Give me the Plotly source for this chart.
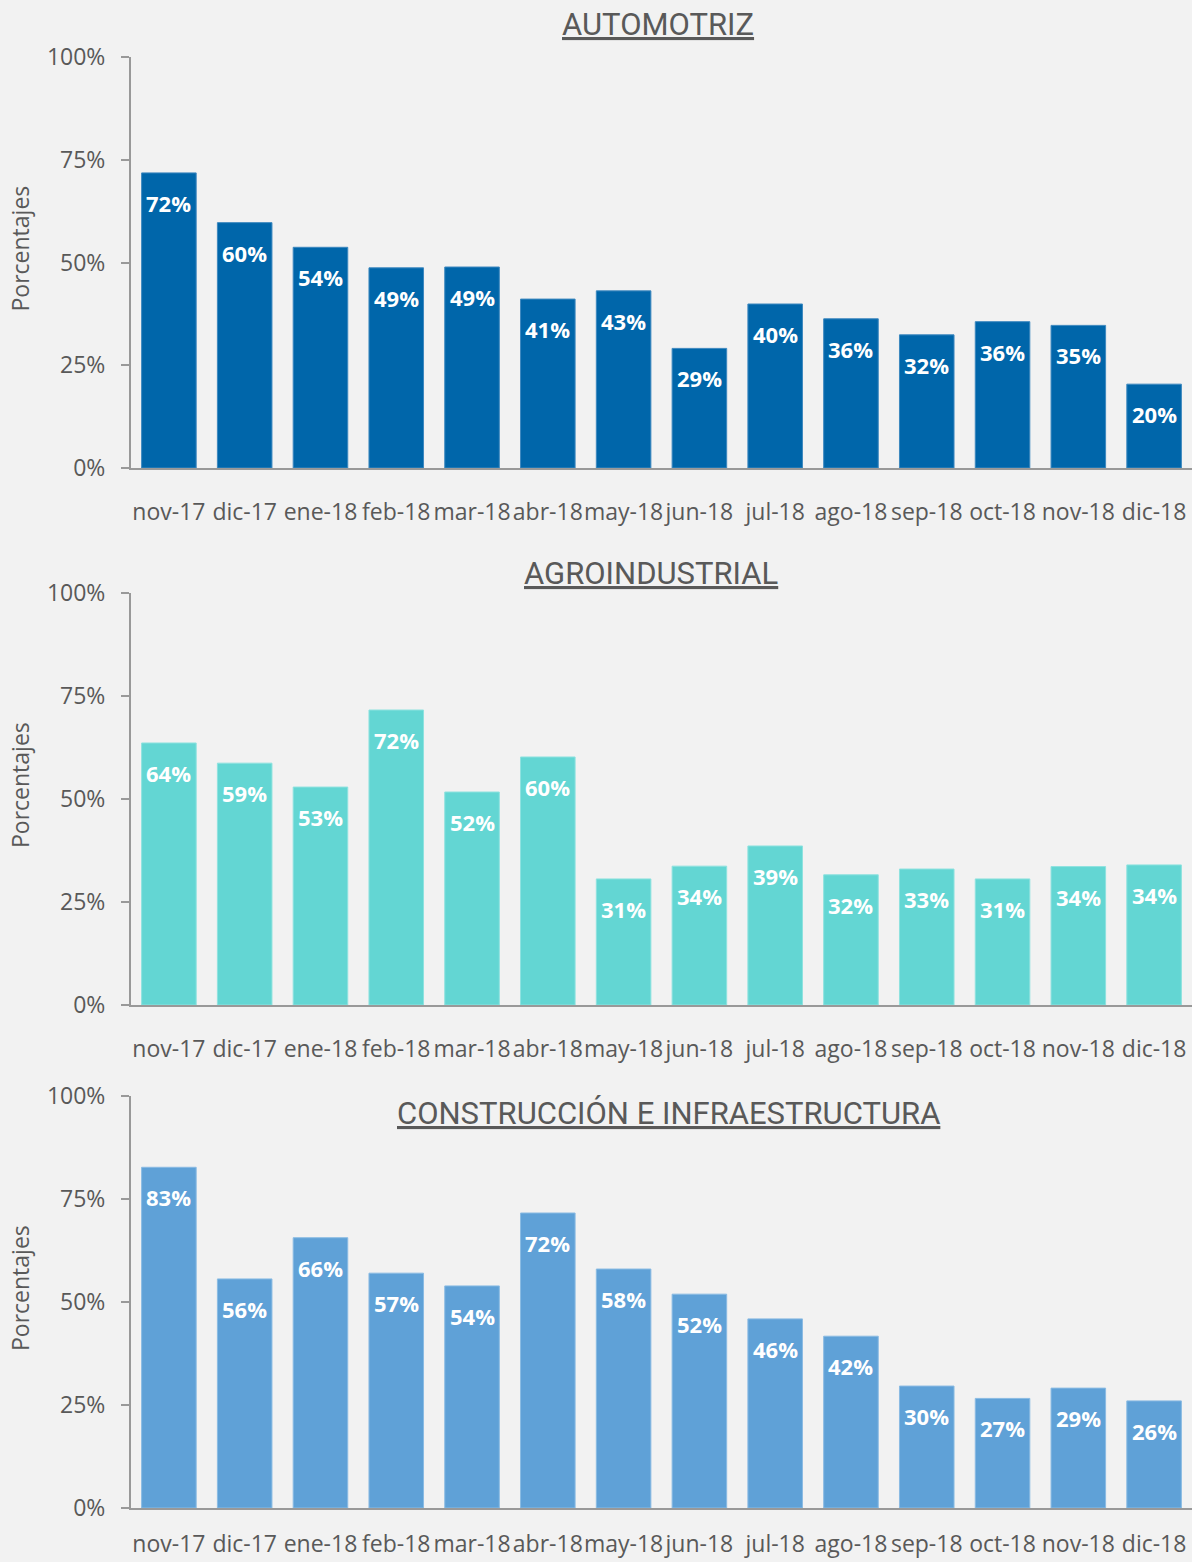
import plotly.graph_objects as go
from plotly.subplots import make_subplots

months = ["nov-17", "dic-17", "ene-18", "feb-18", "mar-18", "abr-18", "may-18",
          "jun-18", "jul-18", "ago-18", "sep-18", "oct-18", "nov-18", "dic-18"]

# shares (fractions)
automotriz = [0.718, 0.597, 0.537, 0.487, 0.489, 0.411, 0.431, 0.291, 0.399, 0.363, 0.324, 0.356, 0.347, 0.204]
agroindustrial = [0.636, 0.587, 0.529, 0.716, 0.517, 0.602, 0.306, 0.337, 0.386, 0.316, 0.330, 0.306, 0.336, 0.340]
construccion = [0.827, 0.556, 0.656, 0.570, 0.539, 0.716, 0.580, 0.519, 0.459, 0.417, 0.296, 0.266, 0.291, 0.260]

titles = ["AUTOMOTRIZ", "AGROINDUSTRIAL", "CONSTRUCCIÓN E INFRAESTRUCTURA"]
series = [automotriz, agroindustrial, construccion]
barColors = ["#0066aa", "#63d6d3", "#5fa1d7"]
edgeColors = ["#3d88bf", "#8ee2df", "#8abbe3"]

W, H = 1192, 1562
# pixel rows of each panel: (100% line, 0% line)
panelPx = [(57, 468), (593, 1005), (1096, 1508)]
titlePx = [(658, 25), (651, 573), (668, 1113)]
labelStandoff = [22, 22, 14]
left = 131

textColor = "#595959"
axisColor = "#999999"

def py(p):
    return 1 - p / H

def px_(p):
    return (p - left) / (W - left)

fig = make_subplots(rows=3, cols=1)

for i, vals in enumerate(series):
    row = i + 1
    fig.add_trace(go.Bar(x=months, y=vals, marker_color=barColors[i],
                         marker_line_color=edgeColors[i], marker_line_width=1,
                         showlegend=False, hoverinfo="skip"), row=row, col=1)
    xr = "x" if row == 1 else "x%d" % row
    yr = "y" if row == 1 else "y%d" % row
    for m, v in zip(months, vals):
        fig.add_annotation(x=m, y=v, xref=xr, yref=yr, text="<b>%d%%</b>" % round(v * 100),
                           showarrow=False, yshift=-30, xanchor="center", yanchor="middle",
                           font=dict(family="Open Sans", size=22, color="white"))
    top, bot = panelPx[i]
    fig.update_yaxes(domain=[py(bot), py(top)], range=[0, 1], tickvals=[0, 0.25, 0.5, 0.75, 1],
                     tickformat=".0%", ticks="outside", ticklen=8, tickcolor=axisColor, tickwidth=2,
                     showline=True, linecolor=axisColor, linewidth=2, showgrid=False, zeroline=False,
                     tickfont=dict(family="Open Sans", size=23, color=textColor),
                     ticklabelstandoff=11, automargin=False, row=row, col=1)
    fig.update_xaxes(showline=True, linecolor=axisColor, linewidth=2, ticks="", tickangle=0,
                     tickfont=dict(family="Open Sans", size=23, color=textColor),
                     ticklabelstandoff=labelStandoff[i], automargin=False, row=row, col=1)
    # y axis title
    fig.add_annotation(x=px_(20), y=py((top + bot) / 2 - 14), xref="paper", yref="paper",
                       xanchor="center", yanchor="middle",
                       text="Porcentajes", textangle=-90, showarrow=False,
                       font=dict(family="Open Sans", size=23, color=textColor))
    tx, ty = titlePx[i]
    fig.add_annotation(x=px_(tx), y=py(ty), xref="paper", yref="paper",
                       xanchor="center", yanchor="middle",
                       text="<u>" + titles[i] + "</u>", showarrow=False,
                       font=dict(family="Roboto", size=31, color=textColor))

fig.update_layout(width=W, height=H, margin=dict(l=left, r=0, t=0, b=0),
                  paper_bgcolor="#f2f2f2", plot_bgcolor="#f2f2f2", bargap=0.28)

# drop the default page margin so the figure fills the window
fig.write_html("out.html", config={"displayModeBar": False},
               post_script="document.body.style.margin = '0';")
